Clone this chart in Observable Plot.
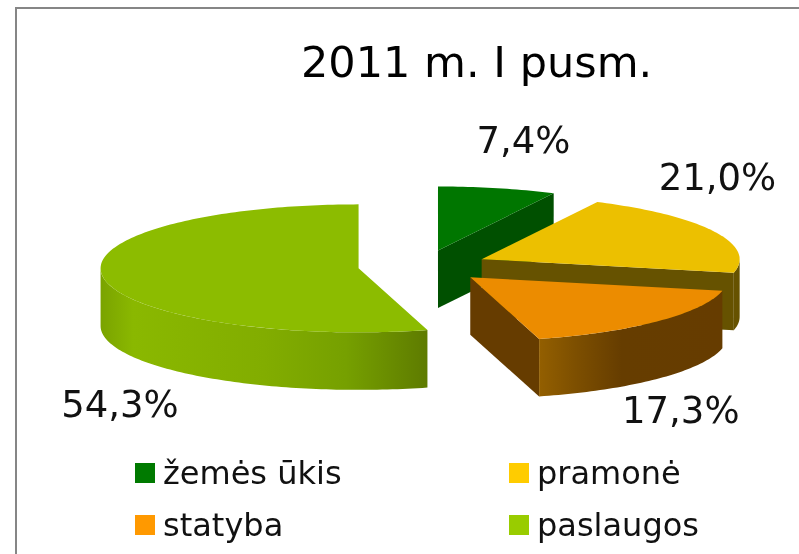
<!DOCTYPE html>
<html lang="lt">
<head>
<meta charset="utf-8">
<script src="https://cdn.jsdelivr.net/npm/d3@7"></script>
<script src="https://cdn.jsdelivr.net/npm/@observablehq/plot@0.6"></script>
<style>
html,body{margin:0;padding:0;background:#fff;}
#page{position:relative;width:799px;height:554px;overflow:hidden;filter:blur(0.6px);font-family:"DejaVu Sans",sans-serif;color:#111;}
#frame{position:absolute;left:15px;top:7px;width:800px;height:560px;border-left:2px solid #868686;border-top:2px solid #868686;box-sizing:border-box;}
#title{position:absolute;left:301px;top:34px;font-size:43px;line-height:56px;white-space:nowrap;color:#000;}
#chart{position:absolute;left:0;top:100px;}
.key{position:absolute;font-size:32px;line-height:40px;white-space:nowrap;}
.key i{position:absolute;left:-28px;top:10px;width:20px;height:20px;}
</style>
</head>
<body>
<div id="page">
  <div id="frame"></div>
  <div id="title">2011 m. I pusm.</div>
  <div id="chart"></div>
  <div id="legend"></div>
</div>
<script>
const categories = ["žemės ūkis", "pramonė", "statyba", "paslaugos"];
const shares = [7.4, 21.0, 17.3, 54.3];
const shareLabels = ["7,4%", "21,0%", "17,3%", "54,3%"];
const legendColors = ["#007a00", "#ffcc00", "#ff9900", "#99cc00"];
const topColors = ["#007600", "#ecc000", "#ec8c00", "#8cbc00"];
const cutColors = ["#005000", "#665200", "#663c00", "#5e7b00"];
const wallFills = ["#005000", "#665200", "url(#wall-statyba)", "url(#wall-paslaugos)"];
const labelNudge = [[26, -47], [3, -53], [23, 90], [17, 128]];
const legendSpots = [[163, 453], [537, 453], [163, 505], [537, 505]];
const paintOrder = [3, 0, 1, 2]; // back to front

// Layout of the projected pie (pixels per unit radius)
const W = 799, H = 350, top0 = 100;
const cx = 422.5, cy = 265.7 - top0, rx = 258, ry = 64;
const explode = 0.252, depth = 57.5 / ry;

const slices = d3.pie().sort(null).startAngle(0).endAngle(2 * Math.PI)(shares);

const rim = (a, o, dz = 0) => ({x: o.x + Math.sin(a), y: o.y - Math.cos(a) + dz});
function arcPts(a0, a1, o, dz) {
  const n = Math.max(2, Math.ceil(Math.abs(a1 - a0) / 0.02));
  return d3.range(n + 1).map(i => rim(a0 + (a1 - a0) * i / n, o, dz));
}

const faceMarks = [];
const labelMarks = [];
const face = (pts, fill) => faceMarks.push(Plot.line(pts, {x: "x", y: "y", fill, stroke: "none"}));

paintOrder.forEach(i => {
  const s = slices[i];
  const mid = (s.startAngle + s.endAngle) / 2;
  const o = {x: explode * Math.sin(mid), y: -explode * Math.cos(mid)};
  const cut = a => {
    const p = rim(a, o);
    return [{x: o.x, y: o.y}, p, {x: p.x, y: p.y + depth}, {x: o.x, y: o.y + depth}];
  };
  // cut faces, only when they look towards the viewer
  if (Math.sin(s.startAngle) < -1e-6) face(cut(s.startAngle), cutColors[i]);
  if (Math.sin(s.endAngle) > 1e-6) face(cut(s.endAngle), cutColors[i]);
  // outer wall: only the front half of the rim
  const a0 = Math.max(s.startAngle, Math.PI / 2), a1 = Math.min(s.endAngle, 3 * Math.PI / 2);
  if (a1 > a0) face([...arcPts(a0, a1, o, 0), ...arcPts(a1, a0, o, depth)], wallFills[i]);
  // top face
  face([{x: o.x, y: o.y}, ...arcPts(s.startAngle, s.endAngle, o, 0)], topColors[i]);
  // percentage label
  const anchor = rim(mid, o);
  labelMarks.push(Plot.text([shareLabels[i]], {
    x: () => anchor.x, y: () => anchor.y, text: d => d,
    dx: labelNudge[i][0], dy: labelNudge[i][1],
    fontSize: 37, fill: "#111", textAnchor: "middle",
    fontFamily: '"DejaVu Sans",sans-serif'
  }));
});

const defs = () => {
  const d = document.createElementNS("http://www.w3.org/2000/svg", "defs");
  d.innerHTML = `
  <linearGradient id="wall-statyba">
    <stop offset="0" stop-color="#935f00"/><stop offset="0.2" stop-color="#7d4f00"/>
    <stop offset="0.45" stop-color="#663d00"/><stop offset="1" stop-color="#663c00"/>
  </linearGradient>
  <linearGradient id="wall-paslaugos">
    <stop offset="0" stop-color="#7aa300"/><stop offset="0.1" stop-color="#8ab800"/>
    <stop offset="0.5" stop-color="#82ad00"/><stop offset="0.75" stop-color="#76a000"/>
    <stop offset="1" stop-color="#5e7b00"/>
  </linearGradient>`;
  return d;
};

const plot = Plot.plot({
  width: W, height: H,
  margin: 0,
  style: {background: "transparent", overflow: "visible"},
  x: {domain: [-cx / rx, (W - cx) / rx], range: [0, W], axis: null},
  y: {domain: [-cy / ry, (H - cy) / ry], range: [0, H], axis: null},
  marks: [defs, ...faceMarks, ...labelMarks]
});
document.getElementById("chart").append(plot);

const legend = document.getElementById("legend");
categories.forEach((c, i) => {
  const k = document.createElement("div");
  k.className = "key";
  k.style.left = legendSpots[i][0] + "px";
  k.style.top = legendSpots[i][1] + "px";
  const sw = document.createElement("i");
  sw.style.background = legendColors[i];
  k.append(sw, c);
  legend.append(k);
});
</script>
</body>
</html>
